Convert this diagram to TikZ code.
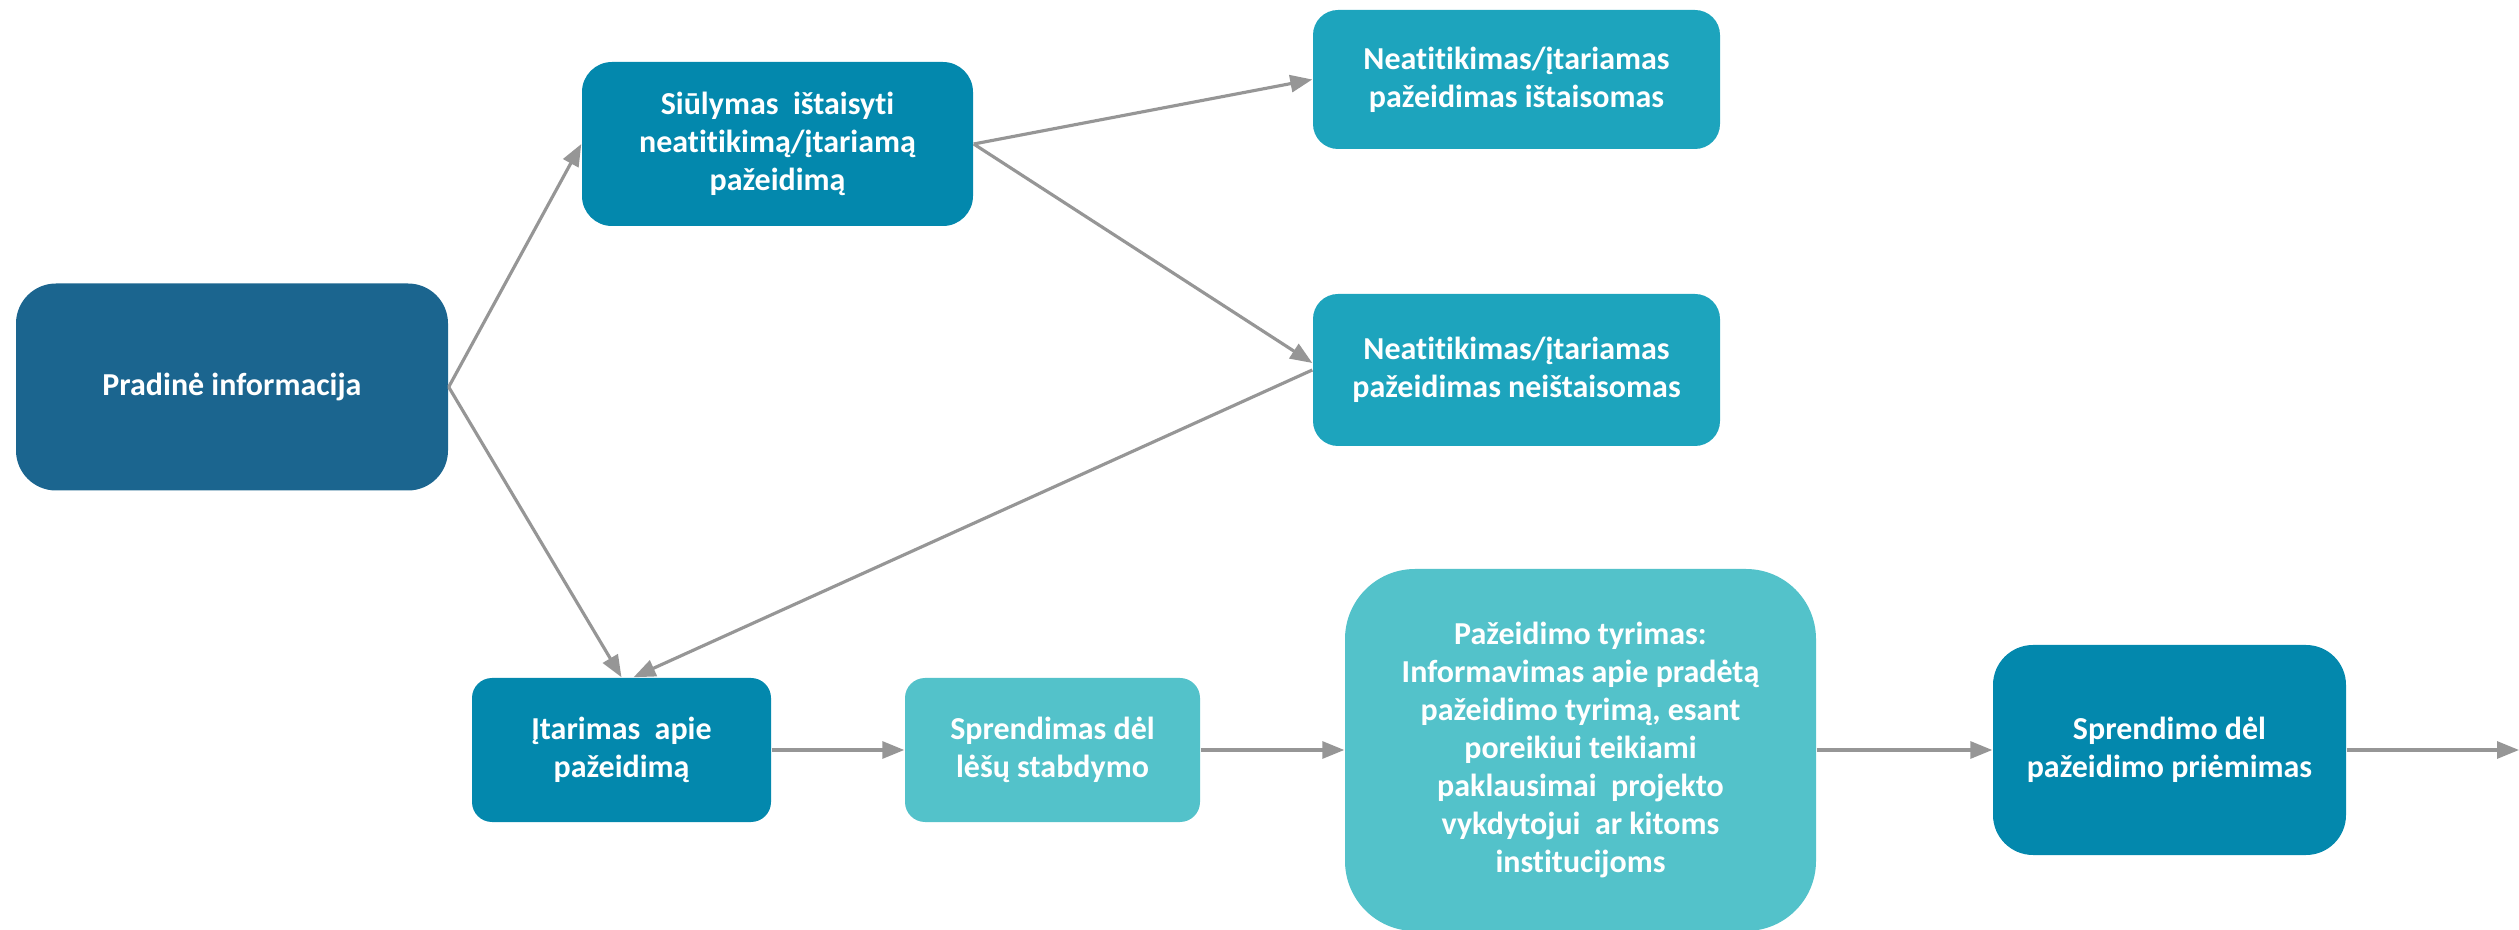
\documentclass[tikz,border=0pt]{standalone}
\usepackage{fontspec}
\setmainfont{Carlito}[Ligatures=NoCommon]
\usetikzlibrary{arrows.meta,calc}
\definecolor{cdark}{RGB}{27,101,143}
\definecolor{cmid}{RGB}{3,136,173}
\definecolor{cteal}{RGB}{29,164,189}
\definecolor{clight}{RGB}{83,194,202}
\definecolor{carrow}{RGB}{150,150,150}
\tikzset{
  box/.style={rectangle, draw=none, text=white, align=center, inner sep=0pt,
    font=\fontsize{9.1}{10.8}\selectfont\bfseries},
  conn/.style={draw=carrow, line width=0.9pt, -{Triangle[length=0.22cm,width=0.17cm]}}
}
\begin{document}
\begin{tikzpicture}
\useasboundingbox (0,0) rectangle (25.19,-9.30);
\node[box, fill=cdark, rounded corners=0.4cm, minimum width=4.32cm, minimum height=2.07cm] (prad) at (2.32,-3.87) {Pradinė informacija};
\node[box, fill=cmid, rounded corners=0.3cm, minimum width=3.91cm, minimum height=1.64cm] (siul) at (7.775,-1.44) {Siūlymas\ \ ištaisyti\\neatitikimą/įtariamą\\pažeidimą};
\node[box, fill=cteal, rounded corners=0.25cm, minimum width=4.07cm, minimum height=1.39cm] (nis) at (15.165,-0.795) {Neatitikimas/įtariamas\\pažeidimas ištaisomas};
\node[box, fill=cteal, rounded corners=0.25cm, minimum width=4.07cm, minimum height=1.52cm] (nneis) at (15.165,-3.70) {Neatitikimas/įtariamas\\pažeidimas neištaisomas};
\node[box, fill=cmid, rounded corners=0.2cm, minimum width=2.99cm, minimum height=1.44cm] (itar) at (6.215,-7.50) {Įtarimas\ \ apie\\pažeidimą};
\node[box, fill=clight, rounded corners=0.2cm, minimum width=2.95cm, minimum height=1.44cm] (lesu) at (10.525,-7.50) {Sprendimas dėl\\lėšų stabdymo};
\node[box, fill=clight, rounded corners=0.7cm, minimum width=4.71cm, minimum height=3.62cm] (tyr) at (15.805,-7.50) {Pažeidimo tyrimas:\\Informavimas apie pradėtą\\pažeidimo tyrimą, esant\\poreikiui teikiami\\paklausimai\ \ projekto\\vykdytojui\ \ ar kitoms\\institucijoms};
\node[box, fill=cmid, rounded corners=0.4cm, minimum width=3.53cm, minimum height=2.10cm] (spr) at (21.695,-7.50) {Sprendimo dėl\\pažeidimo priėmimas};
\coordinate (out) at (25.19,-7.50);
\draw[conn] (prad.east) -- (siul.west);
\draw[conn] (prad.east) -- (itar.north);
\draw[conn] (siul.east) -- (nis.west);
\draw[conn] (siul.east) -- ($(nneis.west)+(0,0.07)$);
\draw[conn] (nneis.west) -- ($(itar.north)+(0.12,0)$);
\draw[conn] (itar.east) -- (lesu.west);
\draw[conn] (lesu.east) -- (tyr.west);
\draw[conn] (tyr.east) -- (spr.west);
\draw[conn] (spr.east) -- (out);
\end{tikzpicture}
\end{document}
